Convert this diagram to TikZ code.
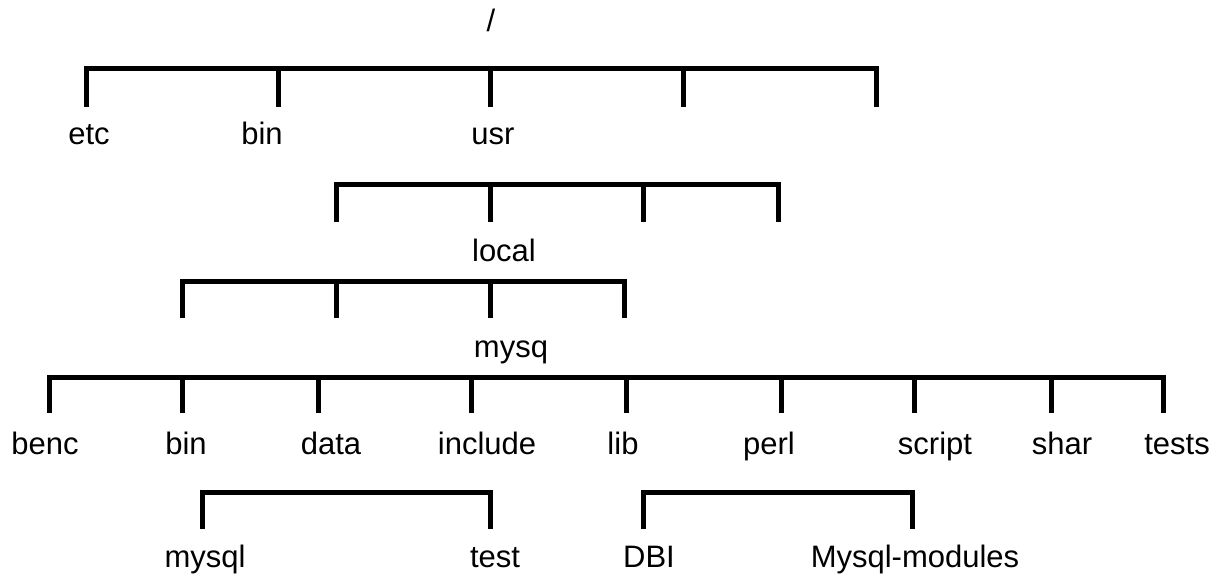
\documentclass[tikz,border=0pt]{standalone}
\usepackage{fontspec}
\setmainfont{Liberation Sans}
\begin{document}
\begin{tikzpicture}[x=0.75pt,y=-0.75pt,
  bar/.style={line width=3.75pt, line join=miter, line cap=butt},
  tick/.style={line width=3.75pt, line cap=butt},
  lbl/.style={anchor=base, inner sep=0pt, font=\fontsize{23.25}{28}\selectfont}]
\useasboundingbox (0,0) rectangle (1225,574);

% root directory
\node[lbl] (root) at (491,32) {/};

% first level under /
\foreach \x [count=\i] in {86,278,490,683,876} {
  \coordinate (a\i) at (\x,69);
  \coordinate (ae\i) at (\x,107);
}
\draw[bar] (ae1) -- (a1) -- (a5) -- (ae5);
\foreach \i in {2,3,4} \draw[tick] (a\i) -- (ae\i);
\node[lbl] (etc) at (89,145) {etc};
\node[lbl] (bin1) at (262,145) {bin};
\node[lbl] (usr) at (493,145) {usr};

% under usr
\foreach \x [count=\i] in {336,490,643,778} {
  \coordinate (b\i) at (\x,185);
  \coordinate (be\i) at (\x,222);
}
\draw[bar] (be1) -- (b1) -- (b4) -- (be4);
\foreach \i in {2,3} \draw[tick] (b\i) -- (be\i);
\node[lbl] (local) at (504,262) {local};

% under local
\foreach \x [count=\i] in {182,336,490,624} {
  \coordinate (c\i) at (\x,281);
  \coordinate (ce\i) at (\x,318);
}
\draw[bar] (ce1) -- (c1) -- (c4) -- (ce4);
\foreach \i in {2,3} \draw[tick] (c\i) -- (ce\i);
\node[lbl] (mysq) at (511,357) {mysq};

% under mysq
\foreach \x [count=\i] in {49,182,318,471,626,781,914,1051,1163} {
  \coordinate (d\i) at (\x,377);
  \coordinate (de\i) at (\x,413);
}
\draw[bar] (de1) -- (d1) -- (d9) -- (de9);
\foreach \i in {2,...,8} \draw[tick] (d\i) -- (de\i);
\node[lbl] (benc) at (45,454) {benc};
\node[lbl] (bin2) at (186,454) {bin};
\node[lbl] (data) at (331,454) {data};
\node[lbl] (include) at (487,454) {include};
\node[lbl] (lib) at (623,454) {lib};
\node[lbl] (perl) at (769,454) {perl};
\node[lbl] (script) at (935,454) {script};
\node[lbl] (shar) at (1062,454) {shar};
\node[lbl] (tests) at (1177,454) {tests};

% under bin
\coordinate (f1) at (202,492);
\coordinate (fe1) at (202,529);
\coordinate (f2) at (490,492);
\coordinate (fe2) at (490,529);
\draw[bar] (fe1) -- (f1) -- (f2) -- (fe2);
\node[lbl] (mysql) at (205,567) {mysql};
\node[lbl] (test) at (495,567) {test};

% under lib
\coordinate (g1) at (643,492);
\coordinate (ge1) at (643,529);
\coordinate (g2) at (912,492);
\coordinate (ge2) at (912,529);
\draw[bar] (ge1) -- (g1) -- (g2) -- (ge2);
\node[lbl] (dbi) at (649,567) {DBI};
\node[lbl] (modules) at (915,567) {Mysql-modules};
\end{tikzpicture}
\end{document}
